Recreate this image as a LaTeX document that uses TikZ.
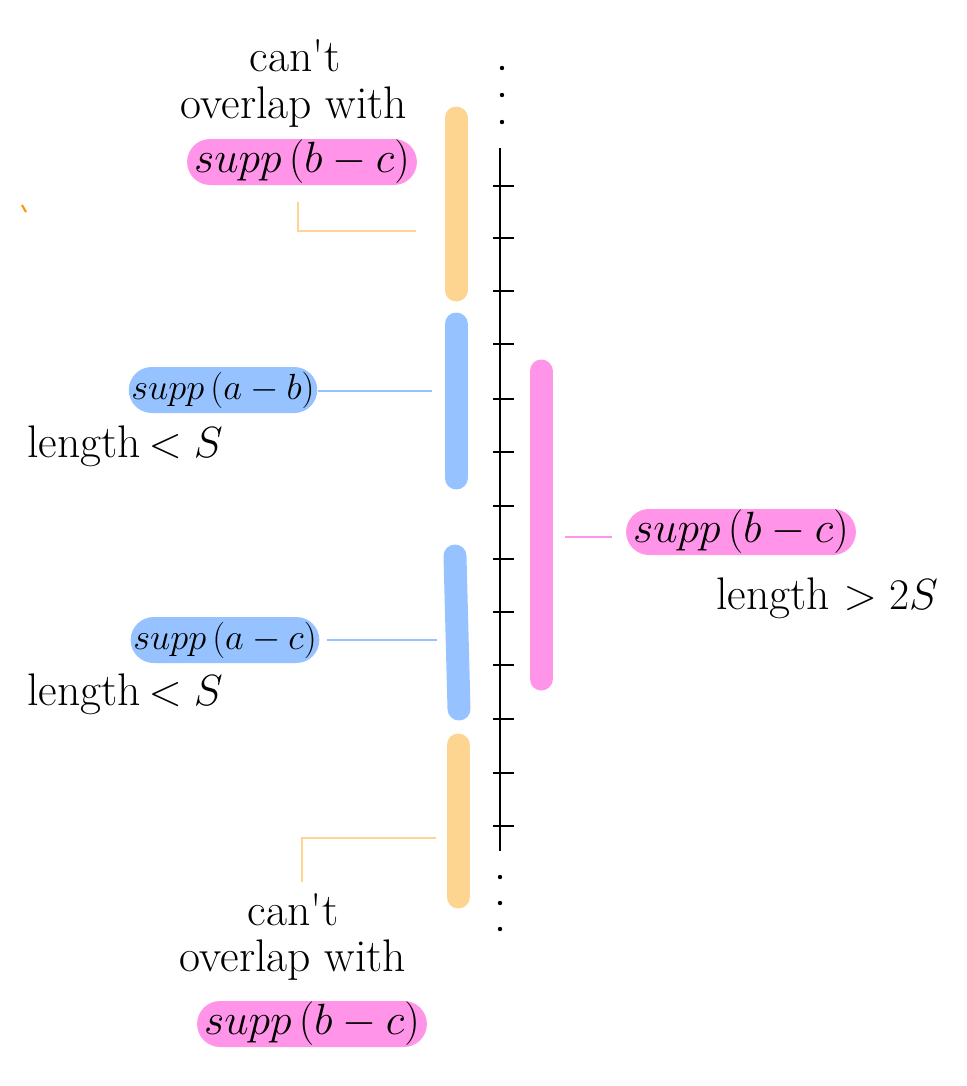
\documentclass[tikz,border=0pt]{standalone}
\definecolor{obar}{RGB}{253,213,145}
\definecolor{bbar}{RGB}{150,195,255}
\definecolor{pbar}{RGB}{255,148,232}
\definecolor{ostray}{RGB}{255,150,0}
\newcommand{\mfs}{\fontsize{23}{28}\selectfont}
\begin{document}
\begin{tikzpicture}[x=0.02cm,y=-0.02cm,
  big/.style={font=\fontsize{26}{28}\selectfont, inner sep=0pt, align=center},
  pill/.style={rectangle, rounded corners=0.46cm, inner xsep=4pt, inner ysep=0pt, minimum height=0.92cm, font=\mfs},
  smallpill/.style={pill, inner xsep=1.5pt, font=\fontsize{20.5}{26}\selectfont},
  barline/.style={line width=0.46cm, line cap=round},
  conn/.style={line width=1.1pt},
  axis/.style={line width=1.7pt},
  tick/.style={line width=1.5pt}]
\useasboundingbox (0,0) rectangle (967,1086);
% stray mark
\draw[ostray, line width=1.2pt] (22,205) -- (26,212);
% axis
\coordinate (ax1) at (500,148);
\coordinate (ax2) at (500,851);
\draw[axis] (ax1) -- (ax2);
\foreach \y in {186,238,291,344,399,452,506,559,612,665,719,773,826}
  \draw[tick] (493,\y) -- (514,\y);
\foreach \y in {68,95,122} \fill (502,\y) circle (2.2);
\foreach \y in {877,903,929} \fill (500,\y) circle (2.2);
% bars
\coordinate (o1a) at (456,118); \coordinate (o1b) at (456,290);
\coordinate (b1a) at (456,324); \coordinate (b1b) at (456,478);
\coordinate (b2a) at (455,556); \coordinate (b2b) at (459,709);
\coordinate (o2a) at (458,745); \coordinate (o2b) at (458,897);
\coordinate (pa) at (541,371); \coordinate (pb) at (541,679);
\draw[barline, obar] (o1a) -- (o1b);
\draw[barline, bbar] (b1a) -- (b1b);
\draw[barline, bbar] (b2a) -- (b2b);
\draw[barline, obar] (o2a) -- (o2b);
\draw[barline, pbar] (pa) -- (pb);
% top labels
\node[big] (t1) at (295,56) {can\textquotesingle t};
\node[big] (t2) at (294,107) {overlap with};
\node[pill, fill=pbar] (p1) at (302,162) {$supp\,(b-c)$};
% blue labels
\node[smallpill, fill=bbar] (q1) at (223,390) {$supp\,(a-b)$};
\node[big] (l1) at (125,446) {length\,{\mfs$<S$}};
\node[smallpill, fill=bbar] (q2) at (225,640) {$supp\,(a-c)$};
\node[big] (l2) at (125,694) {length\,{\mfs$<S$}};
% right labels
\node[pill, fill=pbar] (p2) at (741,532) {$supp\,(b-c)$};
\node[big] (l3) at (827,598) {length {\mfs$>2S$}};
% bottom labels
\node[big] (t3) at (293,910) {can\textquotesingle t};
\node[big] (t4) at (293,960) {overlap with};
\node[pill, fill=pbar] (p3) at (312,1024) {$supp\,(b-c)$};
% connectors
\coordinate (c1s) at (298,202); \coordinate (c1m) at (298,231); \coordinate (c1e) at (416,231);
\draw[conn, obar] (c1s) -- (c1m) -- (c1e);
\coordinate (c2s) at (318,391); \coordinate (c2e) at (432,391);
\draw[conn, bbar] (c2s) -- (c2e);
\coordinate (c3s) at (327,640); \coordinate (c3e) at (437,640);
\draw[conn, bbar] (c3s) -- (c3e);
\coordinate (c4s) at (565,537); \coordinate (c4e) at (612,537);
\draw[conn, pbar] (c4s) -- (c4e);
\coordinate (c5s) at (436,838); \coordinate (c5m) at (302,838); \coordinate (c5e) at (302,882);
\draw[conn, obar] (c5s) -- (c5m) -- (c5e);
\end{tikzpicture}
\end{document}
